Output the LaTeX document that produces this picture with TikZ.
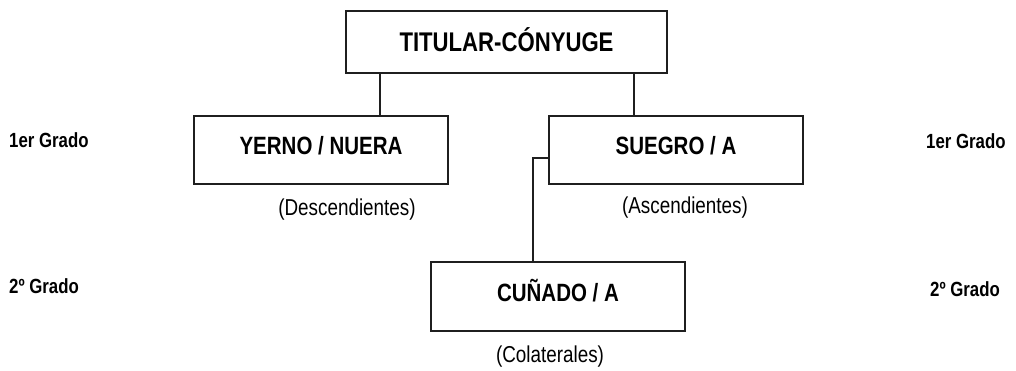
\documentclass[tikz,border=0pt]{standalone}
\usepackage{fontspec}
\setmainfont{Liberation Sans}[FakeStretch=0.82]
\begin{document}
\begin{tikzpicture}[x=1pt,y=-1pt,
  box/.style={draw=black!88,line width=1.6pt,inner sep=0pt,minimum width=254pt,minimum height=68pt,
    font=\fontsize{25}{28}\bfseries\selectfont,text height=17.9pt,text depth=8pt},
  lbl/.style={inner sep=0pt,anchor=base,font=\fontsize{23}{26}\selectfont},
  grado/.style={inner sep=0pt,font=\fontsize{20.5}{24}\bfseries\selectfont},
  conn/.style={draw=black!88,line width=1.4pt}]
\useasboundingbox (0,0) rectangle (1016,370);
\node[box,minimum width=321pt,minimum height=62pt,font=\fontsize{27}{30}\bfseries\selectfont,text height=19.3pt,text depth=0pt] (titular) at (506.5,42) {TITULAR-CÓNYUGE};
\node[box] (yerno) at (321,150) {YERNO / NUERA};
\node[box] (suegro) at (676,150) {SUEGRO / A};
\node[box,minimum height=69pt] (cunado) at (558,296.5) {CUÑADO / A};
\node[lbl] (desc) at (347,215) {(Descendientes)};
\node[lbl] (asc) at (685,213) {(Ascendientes)};
\node[lbl] (col) at (550,362) {(Colaterales)};
\node[grado,anchor=base west] (g1l) at (9,147) {1er Grado};
\node[grado,anchor=base west] (g2l) at (9,293) {2º Grado};
\node[grado,anchor=base west] (g1r) at (926,148) {1er Grado};
\node[grado,anchor=base west] (g2r) at (930,296) {2º Grado};
\draw[conn] ([xshift=-126.5pt]titular.south) -- ([xshift=-126.5pt]titular.south |- yerno.north);
\draw[conn] ([xshift=127.5pt]titular.south) -- ([xshift=127.5pt]titular.south |- suegro.north);
\draw[conn] ([yshift=-8pt]suegro.west) -| ([xshift=-25pt]cunado.north);
\end{tikzpicture}
\end{document}
